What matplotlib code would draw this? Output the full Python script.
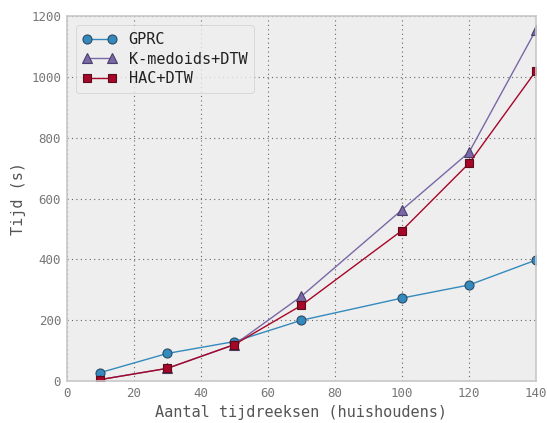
import matplotlib
matplotlib.use("Agg")
import matplotlib.pyplot as plt

x = [10, 30, 50, 70, 100, 120, 140]
gprc = [28, 91, 130, 200, 273, 316, 398]
kmed = [5, 42, 120, 279, 563, 752, 1155]
hac = [5, 42, 120, 249, 495, 716, 1020]

plt.style.use('bmh')
plt.rcParams['font.family'] = ['DejaVu Sans Mono']

fig = plt.figure(figsize=(5.47, 4.23), dpi=100)
ax = fig.add_axes([0.122, 0.099, 0.858, 0.863])
ax.set_facecolor('#eeeeee')

ax.plot(x, gprc, '-o', color='#348ABD', lw=1.0, ms=6.5, mec='#2a4a66', mew=0.8, label='GPRC')
ax.plot(x, kmed, '-^', color='#7A68A6', lw=1.0, ms=6.5, mec='#4a3e6a', mew=0.8, label='K-medoids+DTW')
ax.plot(x, hac, '-s', color='#A60628', lw=1.0, ms=6, mec='#5a0a18', mew=0.8, label='HAC+DTW')

ax.set_xlim(0, 140)
ax.set_ylim(0, 1200)
ax.set_xticks(range(0, 141, 20))
ax.set_yticks(range(0, 1201, 200))
ax.grid(True, linestyle=(0, (1, 3)), color='#666666', linewidth=0.8)
ax.tick_params(colors='#777777', labelsize=9, length=0, pad=4)
for s in ax.spines.values():
    s.set_color('#c8c8c8')
    s.set_linewidth(1.2)
ax.set_xlabel('Aantal tijdreeksen (huishoudens)', color='#555555', fontsize=11)
ax.set_ylabel('Tijd (s)', color='#555555', fontsize=11)
leg = ax.legend(loc='upper left', fontsize=11, numpoints=2, handlelength=2.2,
                labelspacing=0.3, borderpad=0.45,
                frameon=True, facecolor='#eeeeee', edgecolor='#c8c8c8',
                borderaxespad=0.6)
for t in leg.get_texts():
    t.set_color('#222222')

fig.savefig('out.png', dpi=100)
